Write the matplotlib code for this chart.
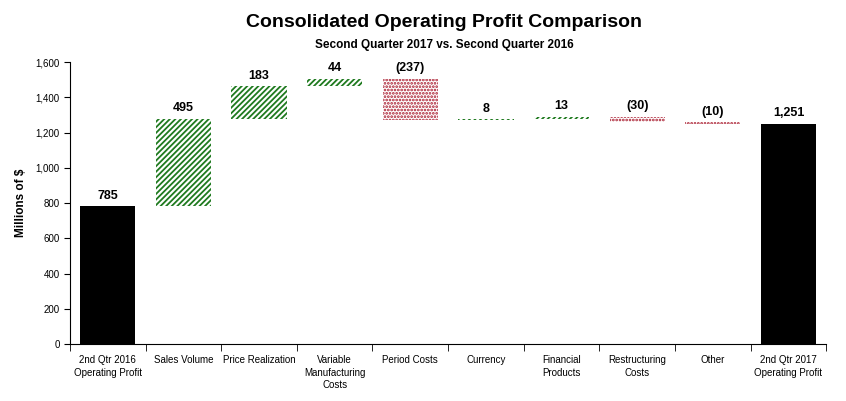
import numpy as np
import matplotlib

matplotlib.use("Agg")
import matplotlib.pyplot as plt
from matplotlib.ticker import FuncFormatter, FixedLocator

# ---- data ------------------------------------------------------------------
categories = [
    "2nd Qtr 2016\nOperating Profit",
    "Sales Volume",
    "Price Realization",
    "Variable\nManufacturing\nCosts",
    "Period Costs",
    "Currency",
    "Financial\nProducts",
    "Restructuring\nCosts",
    "Other",
    "2nd Qtr 2017\nOperating Profit",
]
start_value = 785
changes = [495, 183, 44, -237, 8, 13, -30, -10]
end_value = 1251
yticks = [0, 200, 400, 600, 800, 1000, 1200, 1400, 1600]

# ---- style -----------------------------------------------------------------
GREEN = "#1f7a1f"
RED = "#a8182b"
plt.rcParams["font.family"] = ["Liberation Sans", "DejaVu Sans"]
plt.rcParams["hatch.linewidth"] = 1.3

fig = plt.figure(figsize=(8.46, 4.01), dpi=100)
ax = fig.add_axes([0.0827, 0.142, 0.894, 0.703])

width = 0.73
x = np.arange(len(categories))

# totals
ax.bar([0, 9], [start_value, end_value], width=width, color="black", zorder=3)

# floating steps
cum = start_value
tops = [start_value]
for i, d in enumerate(changes, start=1):
    lo = cum if d > 0 else cum + d
    if d > 0:
        ax.bar(i, d, bottom=lo, width=width, facecolor="white",
               edgecolor=GREEN, hatch="//////", linewidth=0, zorder=3)
    else:
        ax.bar(i, -d, bottom=lo, width=width, facecolor="white",
               edgecolor=RED, hatch=".....", linewidth=0, zorder=3)
    tops.append(max(cum, cum + d))
    cum += d
tops.append(end_value)

labels = [f"{start_value:,}"] + [f"{d:,}" if d > 0 else f"({-d:,})" for d in changes] \
    + [f"{end_value:,}"]
for xi, top, lab in zip(x, tops, labels):
    ax.annotate(lab, (xi, top), xytext=(0, 3), textcoords="offset points",
                ha="center", va="bottom", fontsize=9, fontweight="bold")

# ---- axes ------------------------------------------------------------------
ax.set_xlim(-0.5, len(categories) - 0.5)
ax.set_ylim(0, 1600)
ax.set_yticks(yticks)
ax.yaxis.set_major_formatter(FuncFormatter(lambda v, p: f"{int(v):,}"))
ax.tick_params(axis="y", labelsize=7, length=4, direction="out")

ax.set_xticks(x)
ax.set_xticklabels(categories, fontsize=7, linespacing=1.3)
ax.tick_params(axis="x", length=0, pad=8)
ax.xaxis.set_minor_locator(FixedLocator(np.arange(-0.5, len(categories), 1.0)))
ax.tick_params(axis="x", which="minor", length=5, direction="out")

for s in ["top", "right"]:
    ax.spines[s].set_visible(False)

ax.set_ylabel("Millions of $", fontsize=8.5, fontweight="bold", labelpad=6)

fig.text(0.525, 0.945, "Consolidated Operating Profit Comparison",
         ha="center", va="center", fontsize=14, fontweight="bold")
fig.text(0.525, 0.888, "Second Quarter 2017 vs. Second Quarter 2016",
         ha="center", va="center", fontsize=8.5, fontweight="bold")

fig.savefig("out.png", dpi=100)
